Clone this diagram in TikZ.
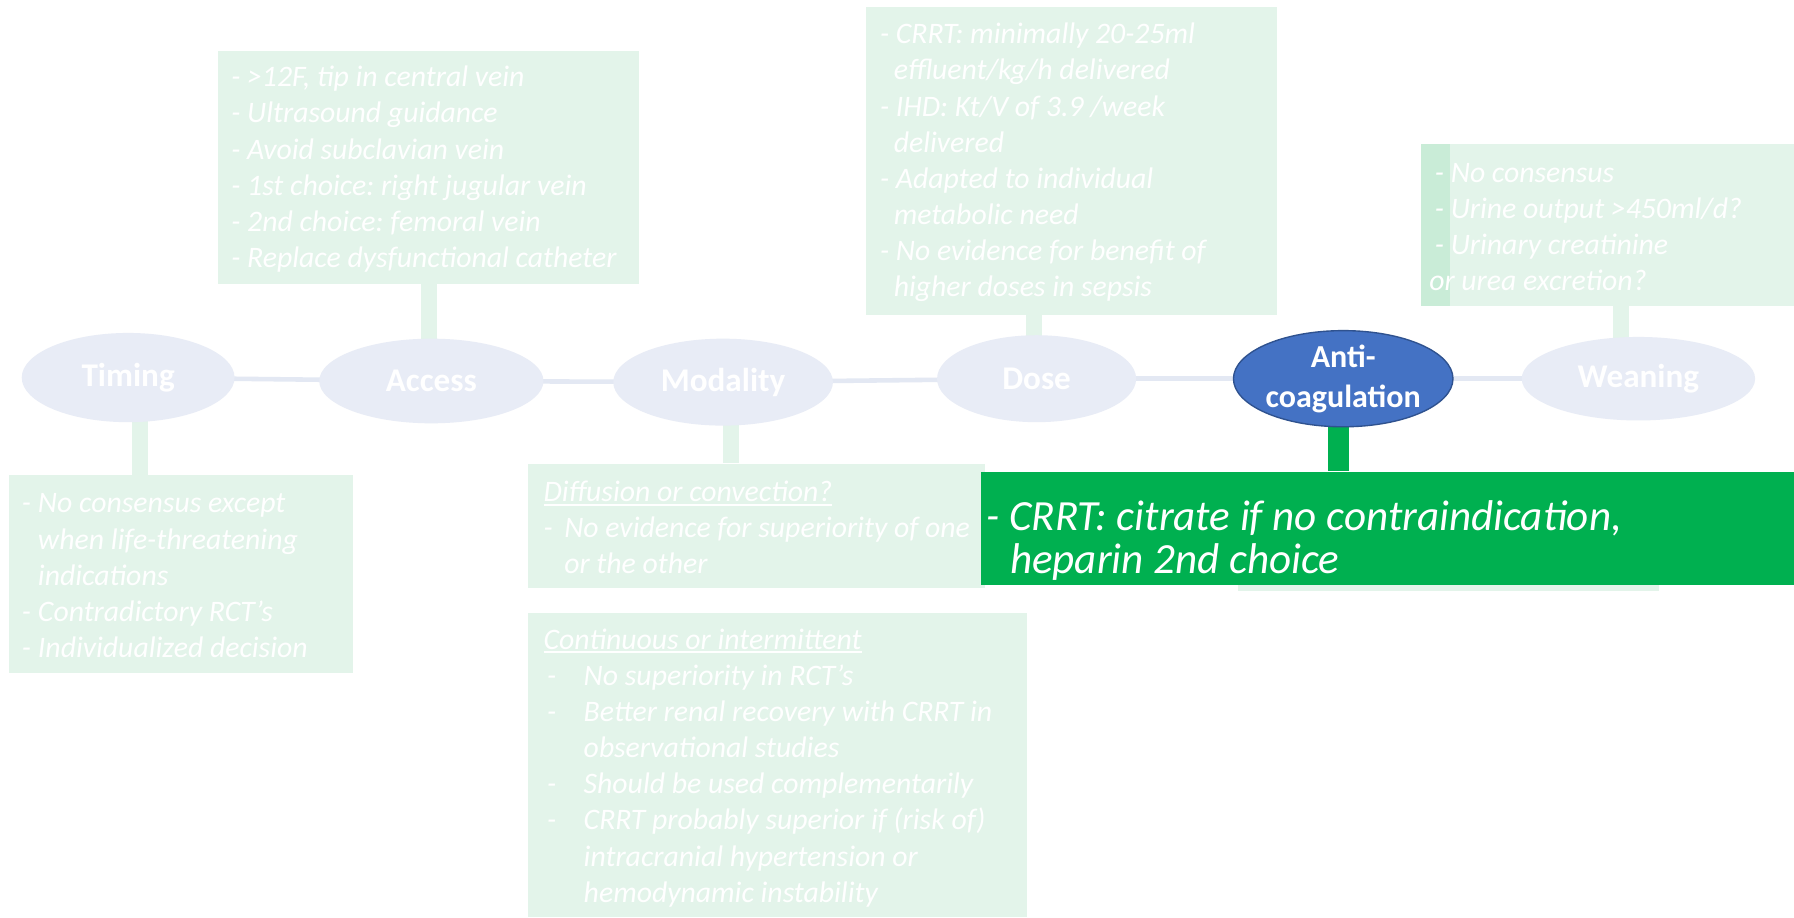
\documentclass[tikz,border=0pt]{standalone}
\usepackage{fontspec}
\setmainfont{Carlito}
\usetikzlibrary{shapes.geometric}
\pgfdeclarelayer{bg}
\pgfsetlayers{bg,main}
\definecolor{ellfill}{HTML}{E8ECF6}
\definecolor{boxfill}{HTML}{E3F4EA}
\definecolor{stripfill}{HTML}{C9ECD7}
\definecolor{hline}{HTML}{E3E8F3}
\definecolor{acblue}{HTML}{4472C4}
\definecolor{acborder}{HTML}{2F528F}
\definecolor{hgreen}{HTML}{00B050}
\newcommand\myul[1]{\setbox0\hbox{#1}\rlap{\rule[-3.5pt]{\wd0}{1.5pt}}\box0}
\newcommand\mybul{\makebox[35pt][l]{\hspace*{3pt}-}}
\frenchspacing
\begin{document}
\begin{tikzpicture}[x=1pt,y=-1pt,
  ell/.style={ellipse, fill=ellfill, draw=none, text=white, inner sep=0,
    font=\fontsize{29}{35}\selectfont\bfseries},
  box/.style={rectangle, fill=boxfill, draw=none, inner sep=0, anchor=north west},
  btxt/.style={anchor=north west, align=left, inner sep=0, text=white,
    font=\fontsize{26}{31.6}\selectfont\itshape\frenchspacing},
  gtxt/.style={anchor=north west, align=left, inner sep=0, text=white,
    font=\fontsize{37.6}{37}\selectfont\itshape\frenchspacing},
  hconn/.style={draw=hline, line width=4},
  vconn/.style={draw=boxfill, line width=14},
  gconn/.style={draw=hgreen, line width=18}]
\useasboundingbox (0,0) rectangle (1568,802);
\begin{pgfonlayer}{bg}
\fill[white] (0,0) rectangle (1568,802);
\end{pgfonlayer}

% boxes
\node[box, minimum width=300, minimum height=173] (tbox) at (8,415) {};
\node[box, minimum width=368, minimum height=204] (abox) at (190,44) {};
\node[box, minimum width=436, minimum height=265] (mbox2) at (461,536) {};
\node[box, minimum width=359, minimum height=269] (dbox) at (757,6) {};
\node[box, minimum width=326, minimum height=141] (wbox) at (1242,126) {};
\node[box, fill=stripfill, minimum width=25, minimum height=141] (wstrip) at (1242,126) {};
\node[box, minimum width=400, minimum height=109] (mbox1) at (461,405) {};

% texts in light boxes
\node[btxt] (ttxt) at (19,426) {\strut\makebox[14pt][l]{-}No consensus except\\\hspace*{14pt}when life-threatening\\\hspace*{14pt}indications\\\makebox[14pt][l]{-}Contradictory RCT’s\\\makebox[14pt][l]{-}Individualized decision};
\node[btxt] (atxt) at (202,53.5) {\strut- >12F, tip in central vein\\- Ultrasound guidance\\- Avoid subclavian vein\\- 1st choice: right jugular vein\\- 2nd choice: femoral vein\\- Replace dysfunctional catheter};
\node[btxt] (dtxt) at (769,16) {\strut- CRRT: minimally 20-25ml\\\hspace*{12pt}effluent/kg/h delivered\\- IHD: Kt/V of 3.9 /week\\\hspace*{12pt}delivered\\- Adapted to individual\\\hspace*{12pt}metabolic need\\- No evidence for benefit of\\\hspace*{12pt}higher doses in sepsis};
\node[btxt] (wtxt) at (1254,137) {\strut- No consensus\\- Urine output >450ml/d?\\- Urinary creatinine\\\hspace*{-5pt}or urea excretion?};
\node[btxt] (m1txt) at (475,416) {\strut\myul{Diffusion or convection?}\\\makebox[18pt][l]{-}No evidence for superiority of one\\\hspace*{18pt}or the other};
\node[btxt] (m2txt) at (475,545) {\strut\myul{Continuous or intermittent}\\\mybul No superiority in RCT’s\\\mybul Better renal recovery with CRRT in\\\hspace*{35pt}observational studies\\\mybul Should be used complementarily\\\mybul CRRT probably superior if (risk of)\\\hspace*{35pt}intracranial hypertension or\\\hspace*{35pt}hemodynamic instability};

% highlighted box
\node[box, minimum width=368, minimum height=102] (acbox) at (1082,414) {};
\node[box, fill=hgreen, minimum width=711, minimum height=99] (gbox) at (857,412) {};
\node[gtxt] (gtext) at (862,437) {\strut- CRRT: citrate if no contraindication,\\\hspace*{0.55em}heparin 2nd choice};

% ellipses
\node[ell, minimum width=186, minimum height=78] (timing) at (112,330) {Timing};
\node[ell, minimum width=196, minimum height=74] (access) at (377,333) {Access};
\node[ell, minimum width=192, minimum height=76] (modality) at (632,334) {Modality};
\node[ell, minimum width=174, minimum height=76] (dose) at (906,331) {Dose};
\node[ell, fill=acblue, draw=acborder, line width=1.2, minimum width=184, minimum height=72, align=center,
  font=\fontsize{28}{35}\selectfont\bfseries] (anticoag) at (1174,331) {Anti-\\coagulation};
\node[ell, minimum width=204, minimum height=73] (weaning) at (1432,331) {Weaning};

% connectors
\begin{pgfonlayer}{bg}
\draw[hconn] (timing.center) -- (access.center);
\draw[hconn] (access.center) -- (modality.center);
\draw[hconn] (modality.center) -- (dose.center);
\draw[hconn] (dose.center) -- (anticoag.center);
\draw[hconn] (anticoag.center) -- (weaning.center);
\draw[vconn] ([xshift=10]timing.center) -- ([xshift=10]timing.center |- tbox.north);
\draw[vconn] ([xshift=-2]access.center) -- ([xshift=-2]access.center |- abox.south);
\draw[vconn] ([xshift=7]modality.center) -- ([xshift=7]modality.center |- mbox1.north);
\draw[vconn] ([xshift=-2]dose.center) -- ([xshift=-2]dose.center |- dbox.south);
\draw[vconn] ([xshift=-15]weaning.center) -- ([xshift=-15]weaning.center |- wbox.south);
\draw[gconn] ([xshift=-4]anticoag.center) -- ([xshift=-4]anticoag.center |- gbox.north);
\end{pgfonlayer}
\end{tikzpicture}
\end{document}
